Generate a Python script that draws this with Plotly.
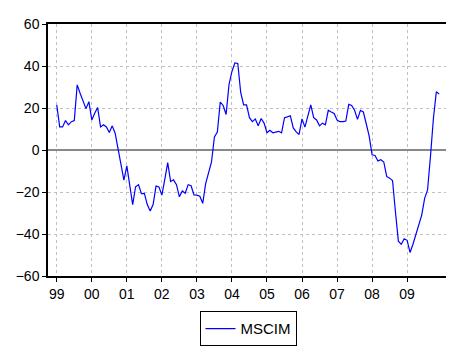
import plotly.graph_objects as go

# monthly series, 1999M01 - 2009M12
months = list(range(132))
mscim = [
    21.5, 11, 11, 14, 12, 13.5, 14, 31, 27, 23, 19.7, 23,
    14.3, 17.5, 20.2, 11, 12, 11, 8.3, 11.5, 8, 0.5, -8, -14.3,
    -7.6, -16, -26, -17.5, -16.5, -20.8, -20.7, -26, -29, -26, -17.2, -17.6,
    -21.5, -14, -6, -15, -14.2, -16.5, -22.3, -19.5, -20.6, -16.5, -17, -21.4,
    -21.5, -22, -25.4, -16, -11.4, -5.7, 6.2, 8.6, 22.8, 21.2, 16.9, 31.2,
    37.4, 41.5, 41.2, 27.4, 21.5, 21.5, 15.4, 13.5, 14.8, 11.5, 15, 12.8,
    8.2, 9.4, 8.2, 8.5, 8.9, 8.2, 15.4, 15.8, 16.3, 10.5, 8.6, 7.4,
    14.8, 10.9, 16.6, 21.5, 15.4, 14.3, 11.5, 12.8, 12, 18.9, 18.1, 17.4,
    14.3, 13.5, 13.5, 13.8, 21.7, 21.2, 18.9, 14.6, 18.9, 18.1, 12.5, 6.6,
    -2.3, -2.6, -5.2, -4.6, -5.7, -12.6, -13.4, -14.5, -29.5, -43.4, -44.9, -42.3,
    -43, -48.8, -44.9, -40.3, -36, -31, -23, -19, -3, 15, 27.7, 26.6,
]
year_ticks = [0, 12, 24, 36, 48, 60, 72, 84, 96, 108, 120]
year_labels = ["99", "00", "01", "02", "03", "04", "05", "06", "07", "08", "09"]

fig = go.Figure()
fig.add_trace(go.Scatter(x=months, y=mscim, mode="lines", name="MSCIM",
                         line=dict(color="#0000ff", width=1.2)))

# page body adds an 8px offset, so margins are trimmed to match
fig.update_layout(
    width=454, height=360,
    margin=dict(l=36, r=14, t=8, b=92),
    paper_bgcolor="white", plot_bgcolor="white",
    font=dict(family="Liberation Sans, Arial, sans-serif", size=14, color="black"),
    showlegend=True,
    legend=dict(x=0.5, xanchor="center", y=-0.14, yanchor="top",
                bordercolor="black", borderwidth=1, bgcolor="white",
                font=dict(size=15), itemwidth=30),
)
fig.update_xaxes(
    range=[-3, 134], tickvals=year_ticks, ticktext=year_labels,
    showgrid=True, gridcolor="#c0c0c0", griddash="dot", gridwidth=1,
    showline=True, linecolor="black", linewidth=1.5, mirror=True,
    ticks="outside", ticklen=4, tickcolor="black", zeroline=False,
)
fig.update_yaxes(
    range=[-60, 60], tickvals=[-60, -40, -20, 0, 20, 40, 60],
    showgrid=True, gridcolor="#c0c0c0", griddash="dot", gridwidth=1,
    showline=True, linecolor="black", linewidth=1.5, mirror=True,
    ticks="outside", ticklen=4, tickcolor="black",
    zeroline=True, zerolinecolor="#888888", zerolinewidth=2,
)

fig.write_html("out.html")
